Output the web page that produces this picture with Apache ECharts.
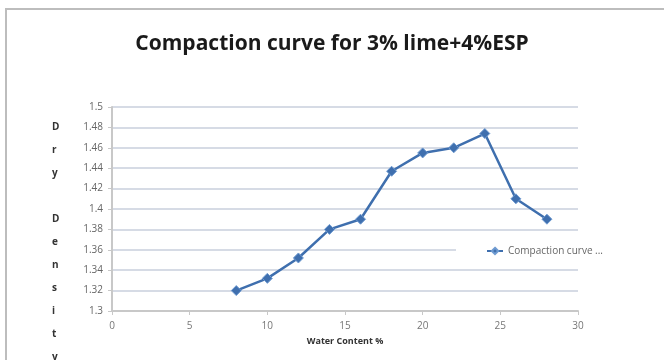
<!DOCTYPE html>
<html>
<head>
<meta charset="utf-8">
<script src="https://cdn.jsdelivr.net/npm/echarts@6/dist/echarts.min.js"></script>
<style>
html,body{margin:0;padding:0;background:#fff;}
#chart{width:664px;height:360px;}
</style>
</head>
<body>
<div id="chart"></div>
<script>
var titleText = 'Compaction curve for 3% lime+4%ESP';
var seriesName = 'Compaction curve ...';
var xAxisTitle = 'Water Content %';
var yAxisTitle = 'Dry Density';
var waterContent = [8, 10, 12, 14, 16, 18, 20, 22, 24, 26, 28];
var dryDensity = [1.32, 1.332, 1.352, 1.38, 1.39, 1.437, 1.455, 1.46, 1.474, 1.41, 1.39];

var chart = echarts.init(document.getElementById('chart'), null, {renderer: 'canvas'});
var data = waterContent.map(function (x, i) { return [x, dryDensity[i]]; });
var stacked = yAxisTitle.split('').map(function (c) { return c === ' ' ? '' : c; }).join('\n');

chart.setOption({
  animation: false,
  backgroundColor: '#ffffff',
  title: {
    text: titleText,
    left: 'center',
    top: 29,
    textStyle: {fontFamily: 'Open Sans', fontWeight: 'bold', fontSize: 21, color: '#1a1a1a'}
  },
  graphic: [
    {type: 'rect', shape: {x: 6, y: 9, width: 700, height: 400}, style: {fill: 'none', stroke: '#bdbdbd', lineWidth: 2}, silent: true},
    {type: 'text', left: 52, top: 116, style: {text: stacked, font: 'bold 10px "Open Sans"', fill: '#333', lineHeight: 23, align: 'center'}}
  ],
  legend: {
    left: 456, top: 238,
    padding: [8, 10, 8, 30],
    backgroundColor: '#ffffff',
    itemWidth: 16, itemHeight: 8,
    textStyle: {fontFamily: 'Open Sans', fontSize: 10, color: '#666'},
    data: [seriesName]
  },
  grid: {left: 112, right: 86, top: 107, bottom: 49},
  xAxis: {
    type: 'value', min: 0, max: 30, interval: 5,
    name: xAxisTitle, nameLocation: 'middle', nameGap: 26,
    nameTextStyle: {fontFamily: 'Open Sans', fontWeight: 'bold', fontSize: 9, color: '#333'},
    axisLine: {show: true, onZero: false, lineStyle: {color: '#c8c8c8', width: 2}},
    axisTick: {show: true, length: 4, lineStyle: {color: '#c8c8c8'}},
    axisLabel: {fontFamily: 'Open Sans', fontSize: 10, color: '#777', margin: 10},
    splitLine: {show: false}
  },
  yAxis: {
    type: 'value', min: 1.3, max: 1.5, interval: 0.02,
    axisLine: {show: true, lineStyle: {color: '#c8c8c8', width: 2}},
    axisTick: {show: true, length: 4, lineStyle: {color: '#c8c8c8'}},
    axisLabel: {fontFamily: 'Open Sans', fontSize: 10, color: '#666', margin: 9,
      formatter: function (v) { return String(Math.round(v * 100) / 100); }},
    splitLine: {show: true, lineStyle: {color: '#d6dbe5', width: 2}}
  },
  series: [{
    name: seriesName,
    type: 'line',
    data: data,
    symbol: 'diamond',
    symbolSize: 10,
    lineStyle: {color: '#3f6fae', width: 2.5},
    itemStyle: {color: '#3f6fae', borderColor: '#6f9bd1', borderWidth: 1}
  }]
});
</script>
</body>
</html>
